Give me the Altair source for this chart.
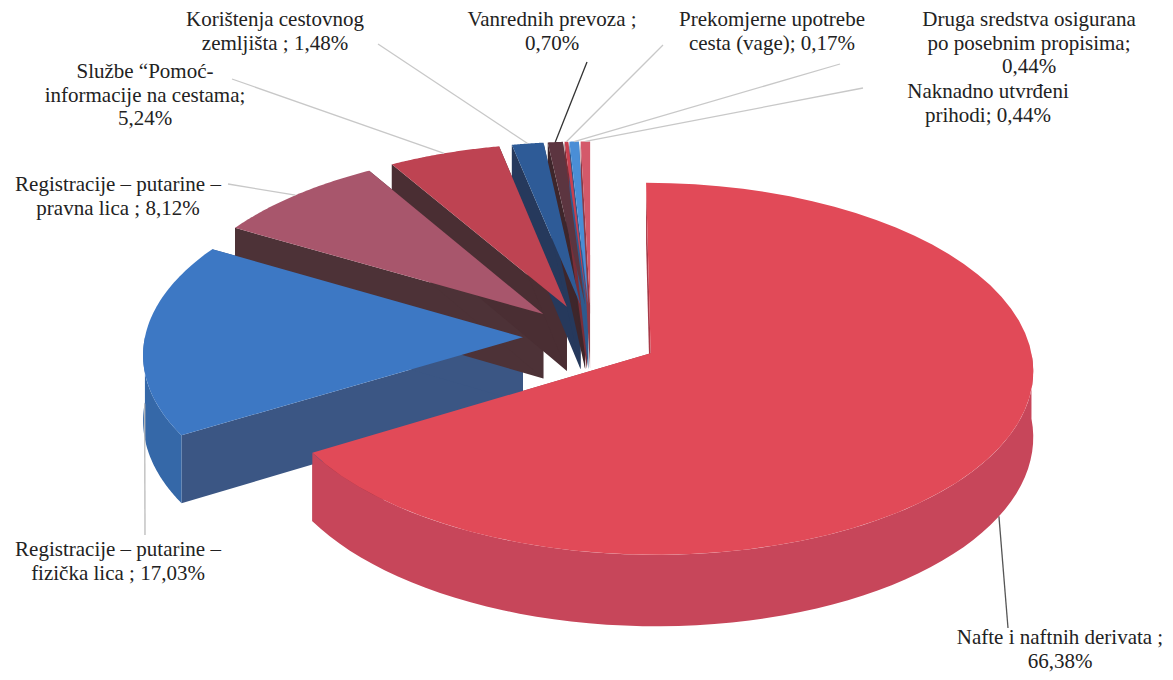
import altair as alt
import pandas as pd

# ---------------- data ----------------
categories = [
    "Nafte i naftnih derivata",
    "Registracije – putarine – fizička lica",
    "Registracije – putarine – pravna lica",
    "Službe “Pomoć-informacije na cestama",
    "Korištenja cestovnog zemljišta",
    "Vanrednih prevoza",
    "Prekomjerne upotrebe cesta (vage)",
    "Druga sredstva osigurana po posebnim propisima",
    "Naknadno utvrđeni prihodi",
]
shares = [66.38, 17.03, 8.12, 5.24, 1.48, 0.70, 0.17, 0.44, 0.44]
labels = [
    ["Nafte i naftnih derivata ;", "66,38%"],
    ["Registracije – putarine –", "fizička lica ; 17,03%"],
    ["Registracije – putarine –", "pravna lica ; 8,12%"],
    ["Službe  “Pomoć-", "informacije na  cestama;", "5,24%"],
    ["Korištenja cestovnog", "zemljišta ; 1,48%"],
    ["Vanrednih prevoza ;", "0,70%"],
    ["Prekomjerne upotrebe", "cesta (vage); 0,17%"],
    ["Druga sredstva osigurana", "po posebnim propisima;", "0,44%"],
    ["Naknadno utvrđeni", "prihodi; 0,44%"],
]

# ---------------- layout / style ----------------
FONT = "Liberation Serif"
label_x = [1060, 118, 118, 145, 275, 552, 772, 1029, 988]
label_y = [638, 550, 185, 72, 20, 20, 20, 20, 92]
LINE_H = 23.5
leader_x = [1008, 145, 228, 232, 378, 587, 663, 840, 863]
leader_y = [628, 535, 184, 79, 44, 62, 45, 64, 88]

top_colors = ["#E14A58", "#3D78C4", "#A8566C", "#BE4352", "#2E5B97",
              "#5C3540", "#C9404F", "#4A8ED6", "#D4596A"]
side_colors = ["#C7465A", "#3568A8", "#8E4458", "#9E3644", "#27497A",
               "#4A2A33", "#A8343F", "#3B74B4", "#B04A58"]
wall_colors = ["#A83A48", "#3B5684", "#4D3237", "#4A2E33", "#26395C",
               "#3E262B", "#7A2E38", "#2E5A8E", "#8E3A46"]
leader_colors = ["#555555", "#BBBBBB", "#C8C8C8", "#C8C8C8", "#C8C8C8",
                 "#333333", "#C8C8C8", "#C8C8C8", "#C8C8C8"]

# projection parameters of the tilted pie
CX, CY = 591, 337      # centre
A, B = 378, 182        # horizontal / vertical radius
E = 0.18               # explode distance (unit radius)
K = 0.083              # perspective
D = 65                 # thickness
N = 60                 # arc resolution

df = pd.DataFrame({
    "idx": list(range(len(categories))),
    "category": categories,
    "value": shares,
    "lx": leader_x,
    "ly": leader_y,
})

# one row per label line
rows = []
for c, lines, x0, y0 in zip(categories, labels, label_x, label_y):
    for i, s in enumerate(lines):
        rows.append({"category": c, "txt": s, "tx": x0, "ty": y0 + i * LINE_H})
lab_df = pd.DataFrame(rows)

xs = alt.Scale(domain=[8, 1165], nice=False, zero=False)
ys = alt.Scale(domain=[8, 672], nice=False, zero=False, reverse=True)


def PX(U, V):
    return f"{CX} + {A}*({U})/(1-{K}*({V}))"


def PY(V, z):
    return f"{CY} + ({B}*({V}) + {D}*({z}))/(1-{K}*({V}))"


def base():
    return (
        alt.Chart(df)
        .transform_window(cum="sum(value)", sort=[alt.SortField("idx")], frame=[None, 0])
        .transform_joinaggregate(total="sum(value)")
        .transform_calculate(t0="2*PI*(datum.cum-datum.value)/datum.total")
        .transform_calculate(t1="2*PI*datum.cum/datum.total")
        .transform_calculate(tm="(datum.t0+datum.t1)/2")
        .transform_calculate(eu=f"{E}*sin(datum.tm)")
        .transform_calculate(ev=f"-{E}*cos(datum.tm)")
    )


def xy():
    return dict(
        x=alt.X("X:Q", scale=xs, axis=None),
        y=alt.Y("Y:Q", scale=ys, axis=None),
    )


# top faces
tops = (
    base()
    .transform_calculate(k=f"sequence(0,{N + 2})")
    .transform_flatten(["k"])
    .transform_calculate(r="datum.k==0?0:1")
    .transform_calculate(ang=f"datum.t0+(datum.t1-datum.t0)*max(datum.k-1,0)/{N}")
    .transform_calculate(U="datum.eu+datum.r*sin(datum.ang)")
    .transform_calculate(V="datum.ev-datum.r*cos(datum.ang)")
    .transform_calculate(X=PX("datum.U", "datum.V"))
    .transform_calculate(Y=PY("datum.V", "0"))
    .mark_line(filled=True, interpolate="linear")
    .encode(
        order="k:Q",
        detail="category:N",
        color=alt.Color("category:N", scale=alt.Scale(domain=categories, range=top_colors), legend=None),
        **xy(),
    )
)

# outer (front) side walls
sides = (
    base()
    .transform_calculate(aS="max(datum.t0, PI/2)")
    .transform_calculate(aE="min(datum.t1, 3*PI/2)")
    .transform_filter("datum.aS < datum.aE")
    .transform_calculate(k=f"sequence(0,{2 * N + 2})")
    .transform_flatten(["k"])
    .transform_calculate(z=f"datum.k>{N}?1:0")
    .transform_calculate(
        ang=f"datum.k<={N} ? datum.aS+(datum.aE-datum.aS)*datum.k/{N} : datum.aE-(datum.aE-datum.aS)*(datum.k-{N + 1})/{N}"
    )
    .transform_calculate(U="datum.eu+sin(datum.ang)")
    .transform_calculate(V="datum.ev-cos(datum.ang)")
    .transform_calculate(X=PX("datum.U", "datum.V"))
    .transform_calculate(Y=PY("datum.V", "datum.z"))
    .mark_line(filled=True, interpolate="linear")
    .encode(
        order="k:Q",
        detail="category:N",
        color=alt.Color("category:N", scale=alt.Scale(domain=categories, range=side_colors), legend=None),
        **xy(),
    )
)

# radial cut walls
walls = (
    base()
    .transform_calculate(k="sequence(0,8)")
    .transform_flatten(["k"])
    .transform_calculate(w="floor(datum.k/4)")
    .transform_calculate(j="datum.k%4")
    .transform_calculate(grp="datum.category + '_' + datum.w")
    .transform_calculate(ang="datum.w==0 ? datum.t0 : datum.t1")
    .transform_calculate(r="(datum.j==1||datum.j==2)?1:0")
    .transform_calculate(z="datum.j>=2?1:0")
    .transform_calculate(U="datum.eu+datum.r*sin(datum.ang)")
    .transform_calculate(V="datum.ev-datum.r*cos(datum.ang)")
    .transform_calculate(X=PX("datum.U", "datum.V"))
    .transform_calculate(Y=PY("datum.V", "datum.z"))
    .mark_line(filled=True, interpolate="linear")
    .encode(
        order="j:Q",
        detail="grp:N",
        color=alt.Color("category:N", scale=alt.Scale(domain=categories, range=wall_colors), legend=None),
        **xy(),
    )
)

# leader lines
leaders = (
    base()
    .transform_calculate(U="datum.eu+sin(datum.tm)")
    .transform_calculate(V="datum.ev-cos(datum.tm)")
    .transform_calculate(z="cos(datum.tm)<0?1:0")
    .transform_calculate(X=PX("datum.U", "datum.V"))
    .transform_calculate(Y=PY("datum.V", "datum.z"))
    .mark_rule(strokeWidth=1.3)
    .encode(
        x=alt.X("X:Q", scale=xs, axis=None),
        y=alt.Y("Y:Q", scale=ys, axis=None),
        x2="lx:Q",
        y2="ly:Q",
        color=alt.Color("category:N", scale=alt.Scale(domain=categories, range=leader_colors), legend=None),
    )
)

# labels
texts = alt.Chart(lab_df).mark_text(
    font=FONT, fontSize=21, align="center", baseline="middle", fill="#222222"
).encode(
    x=alt.X("tx:Q", scale=xs, axis=None),
    y=alt.Y("ty:Q", scale=ys, axis=None),
    text=alt.Text("txt:N"),
)

chart = (
    alt.layer(walls, sides, tops, leaders, texts)
    .resolve_scale(color="independent")
    .properties(width=1157, height=664, padding=0)
    .configure(font=FONT)
    .configure_text(font=FONT)
    .configure_view(stroke=None)
)

chart.save("out.html", embed_options={"renderer": "svg", "actions": False})
